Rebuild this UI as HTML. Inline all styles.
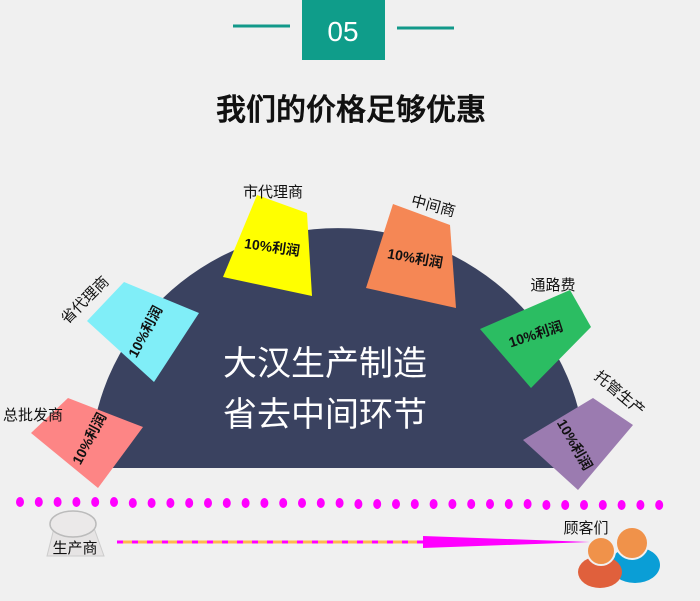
<!DOCTYPE html>
<html><head><meta charset="utf-8"><style>
body{margin:0;width:700px;height:596px;background:#f0f0f0;overflow:hidden;font-family:"Liberation Sans","Noto Sans CJK SC",sans-serif}
</style></head><body>
<svg width="700" height="596" viewBox="0 0 700 596" xmlns="http://www.w3.org/2000/svg" font-family="Liberation Sans, Noto Sans CJK SC, sans-serif">
<line x1="233" y1="26" x2="290" y2="26" stroke="#12998a" stroke-width="3"/>
<line x1="397" y1="28" x2="454" y2="28" stroke="#12998a" stroke-width="3"/>
<rect x="302" y="0" width="83" height="60" fill="#0f9d8a"/>
<text x="343" y="41" font-size="28" fill="#fff" text-anchor="middle">05</text>
<text x="351" y="120" font-size="30" fill="#111" text-anchor="middle" font-weight="500" stroke="#111" stroke-width="0.6">我们的价格足够优惠</text>
<path d="M90 468 A248 240 0 0 1 586 468 Z" fill="#3a4260"/>
<text x="325" y="375" font-size="34" fill="#fff" text-anchor="middle">大汉生产制造</text>
<text x="325" y="426" font-size="34" fill="#fff" text-anchor="middle">省去中间环节</text>
<g font-size="14" fill="#111">
<g font-weight="bold">
<polygon points="257,195 307,213 312,296 223,277" fill="#ffff00"/>
<text x="272" y="252" text-anchor="middle" transform="rotate(8 272 248)">10%利润</text>
<polygon points="124,282 199,313 154,382 87,321" fill="#80eef8"/>
<text x="146" y="336" text-anchor="middle" transform="rotate(-62 146 332)">10%利润</text>
<polygon points="68,398 143,427 98,488 31,433" fill="#fd8585"/>
<text x="90" y="443" text-anchor="middle" transform="rotate(-62 90 439)">10%利润</text>
<polygon points="393,204 450,225 456,308 366,288" fill="#f58755"/>
<text x="415" y="263" text-anchor="middle" transform="rotate(10 415 259)">10%利润</text>
<polygon points="570,290 591,327 531,388 480,329" fill="#2bbd62"/>
<text x="536" y="339" text-anchor="middle" transform="rotate(-18 536 335)">10%利润</text>
<polygon points="593,398 633,425 578,490 523,440" fill="#9b7bb0"/>
<text x="574" y="449" text-anchor="middle" transform="rotate(60 574 445)">10%利润</text>
</g>
<text x="273" y="197" text-anchor="middle" font-size="15">市代理商</text>
<text x="85" y="305" text-anchor="middle" font-size="15" transform="rotate(-45 85 300)">省代理商</text>
<text x="33" y="420" text-anchor="middle" font-size="15">总批发商</text>
<text x="433" y="211" text-anchor="middle" font-size="15" transform="rotate(15 433 207)">中间商</text>
<text x="553" y="290" text-anchor="middle" font-size="15">通路费</text>
<text x="619" y="398" text-anchor="middle" font-size="15" transform="rotate(40 619 394)">托管生产</text>
</g>
<g fill="#ff00ff">
<ellipse cx="20" cy="502" rx="4" ry="5"/><ellipse cx="38.8" cy="502" rx="4" ry="5"/><ellipse cx="57.6" cy="502" rx="4" ry="5"/><ellipse cx="76.4" cy="502" rx="4" ry="5"/><ellipse cx="95.2" cy="502" rx="4" ry="5"/><ellipse cx="114" cy="502" rx="4" ry="5"/><ellipse cx="132.8" cy="503" rx="4" ry="5"/><ellipse cx="151.6" cy="503" rx="4" ry="5"/><ellipse cx="170.4" cy="503" rx="4" ry="5"/><ellipse cx="189.2" cy="503" rx="4" ry="5"/><ellipse cx="208" cy="503" rx="4" ry="5"/><ellipse cx="226.8" cy="503" rx="4" ry="5"/><ellipse cx="245.6" cy="503" rx="4" ry="5"/><ellipse cx="264.4" cy="503" rx="4" ry="5"/><ellipse cx="283.2" cy="503" rx="4" ry="5"/><ellipse cx="302" cy="503" rx="4" ry="5"/><ellipse cx="320.8" cy="503" rx="4" ry="5"/><ellipse cx="339.6" cy="503" rx="4" ry="5"/><ellipse cx="358.4" cy="504" rx="4" ry="5"/><ellipse cx="377.2" cy="504" rx="4" ry="5"/><ellipse cx="396" cy="504" rx="4" ry="5"/><ellipse cx="414.8" cy="504" rx="4" ry="5"/><ellipse cx="433.6" cy="504" rx="4" ry="5"/><ellipse cx="452.4" cy="504" rx="4" ry="5"/><ellipse cx="471.2" cy="504" rx="4" ry="5"/><ellipse cx="490" cy="504" rx="4" ry="5"/><ellipse cx="508.8" cy="504" rx="4" ry="5"/><ellipse cx="527.6" cy="504" rx="4" ry="5"/><ellipse cx="546.4" cy="505" rx="4" ry="5"/><ellipse cx="565.2" cy="505" rx="4" ry="5"/><ellipse cx="584" cy="505" rx="4" ry="5"/><ellipse cx="602.8" cy="505" rx="4" ry="5"/><ellipse cx="621.6" cy="505" rx="4" ry="5"/><ellipse cx="640.4" cy="505" rx="4" ry="5"/><ellipse cx="659.2" cy="505" rx="4" ry="5"/>
</g>
<path d="M54 528 L94 528 L104 556 L47 556 Z" fill="#e6e4e4" stroke="#ccc"/>
<ellipse cx="73" cy="524" rx="23" ry="13" fill="#ebe9e9" stroke="#bbb" stroke-width="1.5"/>
<text x="75" y="553" font-size="15" fill="#111" text-anchor="middle">生产商</text>
<line x1="117" y1="542" x2="425" y2="542" stroke="#ffb84d" stroke-width="3"/>
<line x1="117" y1="542" x2="425" y2="542" stroke="#ff00ff" stroke-width="3" stroke-dasharray="6,9"/>
<polygon points="423,536 590,542 423,548" fill="#ff00ff"/>
<text x="586" y="533" font-size="15" fill="#111" text-anchor="middle">顾客们</text>
<ellipse cx="635" cy="565" rx="25" ry="18" fill="#0a9ed6"/>
<circle cx="632" cy="543" r="16" fill="#f0924a" stroke="#f0f0f0" stroke-width="2"/>
<ellipse cx="600" cy="572" rx="22" ry="16" fill="#e0603c"/>
<circle cx="601" cy="551" r="14" fill="#f0924a" stroke="#f0f0f0" stroke-width="2"/>
</svg>
</body></html>
